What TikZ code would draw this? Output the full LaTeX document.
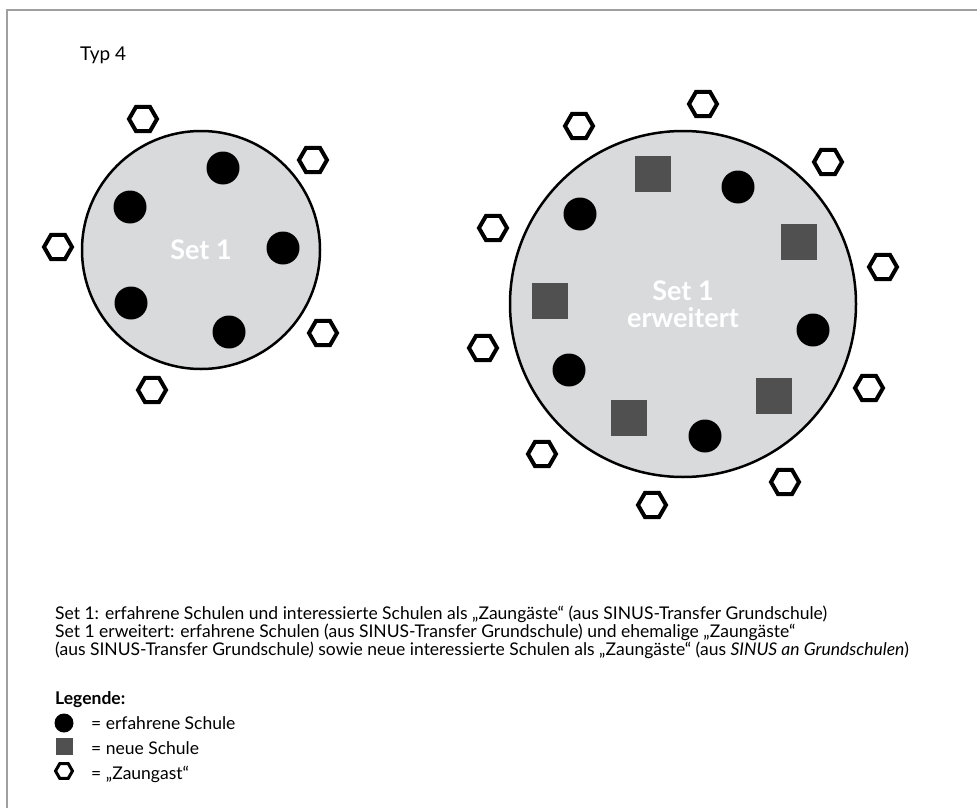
\documentclass[tikz,border=0pt]{standalone}
\usepackage{fontspec}
\setmainfont{Lato}
\usetikzlibrary{shapes.geometric,positioning}
\definecolor{setgray}{HTML}{D9DADC}
\definecolor{newgray}{HTML}{505050}
\definecolor{framegray}{HTML}{A0A0A0}

\begin{document}
\begin{tikzpicture}[x=1pt, y=-1pt,
    setcircle/.style={circle, draw, line width=2.5pt, fill=setgray, inner sep=0pt, text=white, align=center, font=\fontsize{27}{27}\selectfont\bfseries},
    oldschool/.style={circle, fill=black, inner sep=0pt, minimum size=33pt},
    newschool/.style={rectangle, fill=newgray, inner sep=0pt, minimum size=36pt},
    guest/.style={regular polygon, regular polygon sides=6, draw, line width=4pt, inner sep=0pt, minimum size=28pt},
    bodytext/.style={anchor=base west, inner sep=0pt, font=\fontsize{17.5}{18}\selectfont}
  ]
    \useasboundingbox (0,0) rectangle (977,808);
    \draw[framegray, line width=1.5pt] (7,808) -- (7,10) -- (977,10);
    \node[anchor=base west, inner sep=0pt, font=\fontsize{19}{20}\selectfont] (typ) at (80,61) {Typ 4};
    % Set 1
    \node[setcircle, minimum size=238pt] (set) at (201,250) {Set 1};
    \node[oldschool] (setA) at (223,168) {};
    \node[oldschool] (setB) at (130,207) {};
    \node[oldschool] (setC) at (283,248) {};
    \node[oldschool] (setD) at (131,303) {};
    \node[oldschool] (setE) at (229,332) {};
    \node[guest] (guestA) at (143,119) {};
    \node[guest] (guestB) at (313,160) {};
    \node[guest] (guestC) at (58,247) {};
    \node[guest] (guestD) at (323,333) {};
    \node[guest] (guestE) at (152,390) {};
    % Set 1 erweitert
    \node[setcircle, minimum size=346pt] (setx) at (683,304) {Set 1\\erweitert};
    \node[newschool] (newA) at (653,174) {};
    \node[newschool] (newB) at (799,242) {};
    \node[newschool] (newC) at (550,301) {};
    \node[newschool] (newD) at (774,396) {};
    \node[newschool] (newE) at (629,418) {};
    \node[oldschool] (setxA) at (738,187) {};
    \node[oldschool] (setxB) at (580,214) {};
    \node[oldschool] (setxC) at (813,330) {};
    \node[oldschool] (setxD) at (569,370) {};
    \node[oldschool] (setxE) at (705,436) {};
    \node[guest] (guestxA) at (703,104) {};
    \node[guest] (guestxB) at (579,126) {};
    \node[guest] (guestxC) at (828,162) {};
    \node[guest] (guestxD) at (493,228) {};
    \node[guest] (guestxE) at (883,267) {};
    \node[guest] (guestxF) at (483,348) {};
    \node[guest] (guestxG) at (869,388) {};
    \node[guest] (guestxH) at (542,454) {};
    \node[guest] (guestxI) at (785,482) {};
    \node[guest] (guestxJ) at (652,505) {};
    % explanation
    \node[bodytext] (lineA) at (55,619) {Set 1: erfahrene Schulen und interessierte Schulen als „Zaungäste“ (aus SINUS-Transfer Grundschule)};
    \node[bodytext] (lineB) at (55,637) {Set 1 erweitert: erfahrene Schulen (aus SINUS-Transfer Grundschule) und ehemalige „Zaungäste“};
    \node[bodytext] (lineC) at (55,655) {(aus SINUS-Transfer Grundschule\textit{)} sowie neue interessierte Schulen als „Zaungäste“ (aus \textit{SINUS an Grundschulen})};
    % legend
    \node[bodytext, font=\fontsize{17.5}{18}\selectfont\bfseries] (legend) at (55,704) {Legende:};
    \node[oldschool, minimum size=19pt] (legold) at (64,723) {};
    \node[newschool, minimum size=17pt] (legnew) at (64,746) {};
    \node[guest, minimum size=17pt, line width=3pt] (legguest) at (64,771) {};
    \node[bodytext] (legoldtext) at (91,729) {= erfahrene Schule};
    \node[bodytext] (legnewtext) at (91,754) {= neue Schule};
    \node[bodytext] (legguesttext) at (91,779) {= „Zaungast“};
  \end{tikzpicture}
\end{document}
